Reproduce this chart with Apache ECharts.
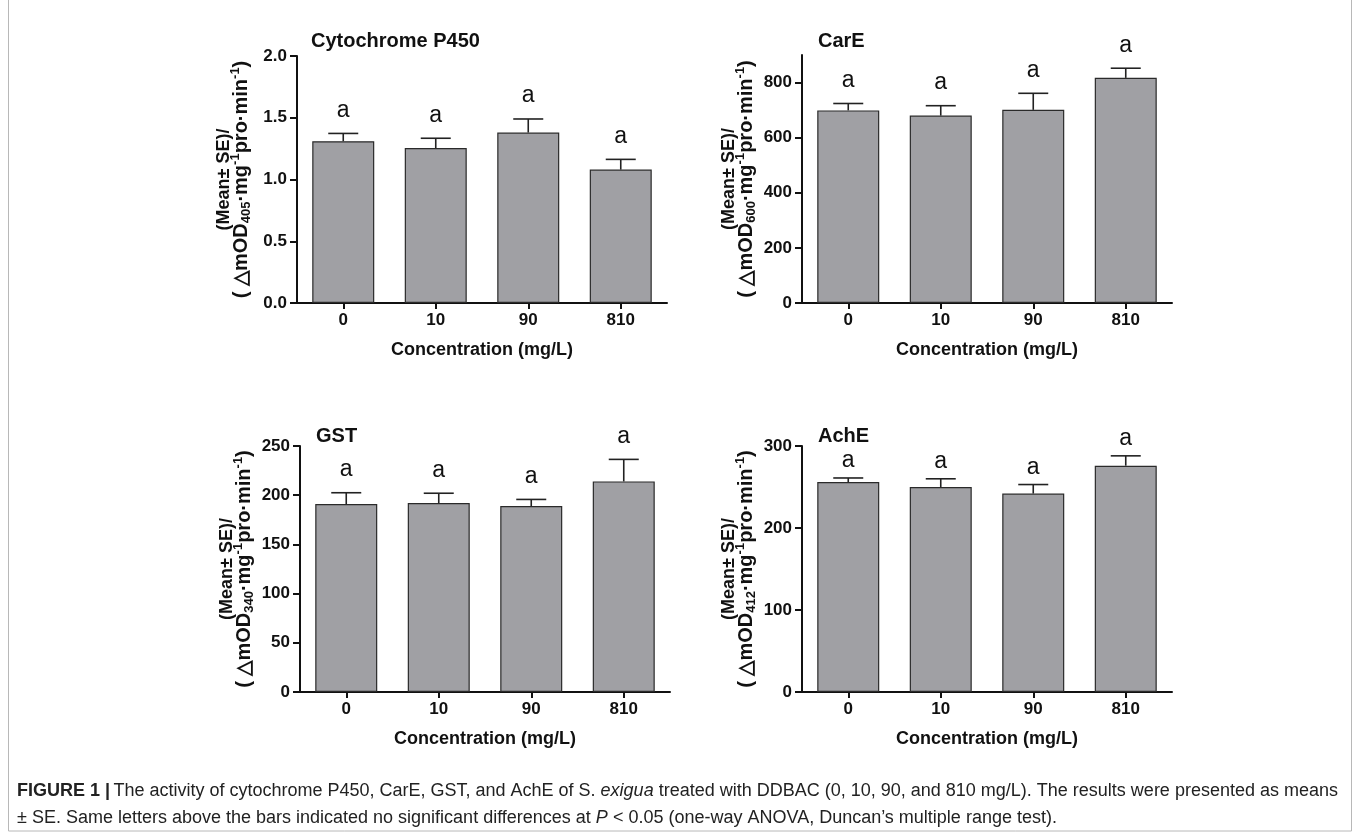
<!DOCTYPE html>
<html>
<head>
<meta charset="utf-8">
<script src="https://cdn.jsdelivr.net/npm/echarts@6/dist/echarts.min.js"></script>
<style>
html,body{margin:0;padding:0;background:#fff;}
#chart{width:1360px;height:839px;}
</style>
</head>
<body>
<div id="chart"></div>
<script>
// ---- data ----
const categories = ['0', '10', '90', '810'];
const p450Mean = [1.31, 1.255, 1.38, 1.08];
const p450SE = [0.063, 0.079, 0.11, 0.083];
const carEMean = [699, 680, 701, 817];
const carESE = [25, 36, 60, 35];
const gstMean = [191, 192, 189, 214];
const gstSE = [11.5, 10, 6.7, 22.4];
const achEMean = [256, 250, 242, 276];
const achESE = [5, 10, 11, 12];
const p450Letters = ['a', 'a', 'a', 'a'];
const carELetters = ['a', 'a', 'a', 'a'];
const gstLetters = ['a', 'a', 'a', 'a'];
const achELetters = ['a', 'a', 'a', 'a'];
const panelTitles = ['Cytochrome P450', 'CarE', 'GST', 'AchE'];
const wavelengths = ['405', '600', '340', '412'];
const p450Ticks = [0, 0.5, 1.0, 1.5, 2.0];
const carETicks = [0, 200, 400, 600, 800];
const gstTicks = [0, 50, 100, 150, 200, 250];
const achETicks = [0, 100, 200, 300];
const xAxisTitle = 'Concentration (mg/L)';

const FONT = '"Liberation Sans", Arial, sans-serif';
const AXIS_COLOR = '#111';
const BAR_COLOR = '#a0a0a4';

const panels = [
  { mean: p450Mean, se: p450SE, letters: p450Letters, ticks: p450Ticks, max: 2.0, dec: 1,
    grid: { left: 297, top: 56, width: 370, height: 247 }, title: { left: 311, top: 31 }, letterGap: 23 },
  { mean: carEMean, se: carESE, letters: carELetters, ticks: carETicks, max: 900, dec: 0,
    grid: { left: 802, top: 55, width: 370, height: 248 }, title: { left: 818, top: 31 }, letterGap: 23 },
  { mean: gstMean, se: gstSE, letters: gstLetters, ticks: gstTicks, max: 250, dec: 0,
    grid: { left: 300, top: 446, width: 370, height: 246 }, title: { left: 316, top: 426 }, letterGap: 23 },
  { mean: achEMean, se: achESE, letters: achELetters, ticks: achETicks, max: 300, dec: 0,
    grid: { left: 802, top: 446, width: 370, height: 246 }, title: { left: 818, top: 426 }, letterGap: 17 }
];

const option = {
  animation: false,
  backgroundColor: '#fff',
  title: [],
  grid: [],
  xAxis: [],
  yAxis: [],
  series: [],
  graphic: []
};

panels.forEach((p, i) => {
  option.grid.push(Object.assign({ containLabel: false }, p.grid));
  option.title.push({
    text: panelTitles[i], left: p.title.left, top: p.title.top, padding: 0,
    textStyle: { fontFamily: FONT, fontWeight: 'bold', fontSize: 20, color: '#111' }
  });
  option.xAxis.push({
    type: 'category', gridIndex: i, data: categories,
    axisLine: { lineStyle: { color: AXIS_COLOR, width: 2 } },
    axisTick: { show: true, alignWithLabel: true, length: 6, lineStyle: { color: AXIS_COLOR, width: 2 } },
    axisLabel: { fontFamily: FONT, fontWeight: 'bold', fontSize: 17, color: '#111', margin: 9 },
    name: xAxisTitle, nameLocation: 'middle', nameGap: 38,
    nameTextStyle: { fontFamily: FONT, fontWeight: 'bold', fontSize: 18, color: '#111' }
  });
  option.yAxis.push({
    type: 'value', gridIndex: i, min: 0, max: p.max,
    splitLine: { show: false },
    axisLine: { show: true, lineStyle: { color: AXIS_COLOR, width: 2 } },
    axisTick: { show: true, length: 7, customValues: p.ticks, lineStyle: { color: AXIS_COLOR, width: 2 } },
    axisLabel: { fontFamily: FONT, fontWeight: 'bold', fontSize: 17, color: '#111', margin: 10,
      customValues: p.ticks, formatter: v => Number(v).toFixed(p.dec) },
    name: '{a|(Mean± SE)/}\n{b|( △mOD}{s|' + wavelengths[i] + '}{b|·mg}{p|-1}{b|pro·min}{p|-1}{b|)}',
    nameLocation: 'middle', nameRotate: 90, nameGap: 44,
    nameTextStyle: {
      fontFamily: FONT, fontWeight: 'bold', color: '#111',
      rich: {
        a: { fontFamily: FONT, fontWeight: 'bold', fontSize: 18, lineHeight: 9, color: '#111' },
        b: { fontFamily: FONT, fontWeight: 'bold', fontSize: 20, lineHeight: 24, color: '#111' },
        s: { fontFamily: FONT, fontWeight: 'bold', fontSize: 13, lineHeight: 13, verticalAlign: 'bottom', color: '#111' },
        p: { fontFamily: FONT, fontWeight: 'bold', fontSize: 13, lineHeight: 13, verticalAlign: 'top', color: '#111' }
      }
    }
  });
  option.series.push({
    type: 'bar', xAxisIndex: i, yAxisIndex: i, data: p.mean, barWidth: 62,
    itemStyle: { color: BAR_COLOR, borderColor: '#2a2a2a', borderWidth: 1.2 },
    z: 2
  });
  const errData = p.mean.map((m, k) => [k, m, m + p.se[k], p.letters[k]]);
  option.series.push({
    type: 'custom', xAxisIndex: i, yAxisIndex: i, data: errData, z: 5,
    encode: { x: 0, y: 2 },
    renderItem: (params, api) => {
      const x = api.value(0);
      const base = api.coord([x, api.value(1)]);
      const top = api.coord([x, api.value(2)]);
      const letter = errData[params.dataIndex][3];
      return {
        type: 'group',
        children: [
          { type: 'line', shape: { x1: base[0], y1: base[1], x2: top[0], y2: top[1] },
            style: { stroke: '#222', lineWidth: 1.6 } },
          { type: 'line', shape: { x1: top[0] - 15, y1: top[1], x2: top[0] + 15, y2: top[1] },
            style: { stroke: '#222', lineWidth: 1.6 } },
          { type: 'text', style: { text: letter, x: top[0], y: top[1] - p.letterGap,
            align: 'center', verticalAlign: 'middle', fontFamily: FONT, fontSize: 23, fill: '#111' } }
        ]
      };
    }
  });
});

option.graphic.push({
  type: 'rect', shape: { x: 8.5, y: -4, width: 1343, height: 835 },
  style: { fill: 'none', stroke: '#b8b8b8', lineWidth: 1 }, silent: true
});
option.graphic.push({
  type: 'text', left: 17, top: 782,
  style: {
    text: '{b|FIGURE 1 |} {r|The activity of cytochrome P450, CarE, GST, and AchE of S. }{i|exigua}{r| treated with DDBAC (0, 10, 90, and 810 mg/L). The results were presented as means}\n' +
          '{r|± SE. Same letters above the bars indicated no significant differences at }{i|P}{r| < 0.05 (one-way ANOVA, Duncan’s multiple range test).}',
    rich: {
      b: { fontFamily: FONT, fontWeight: 'bold', fontSize: 18, lineHeight: 27, fill: '#222' },
      r: { fontFamily: FONT, fontSize: 18, lineHeight: 27, fill: '#222' },
      i: { fontFamily: FONT, fontStyle: 'italic', fontSize: 18, lineHeight: 27, fill: '#222' }
    }
  }
});

const chart = echarts.init(document.getElementById('chart'), null, { renderer: 'canvas' });
chart.setOption(option);
</script>
</body>
</html>
